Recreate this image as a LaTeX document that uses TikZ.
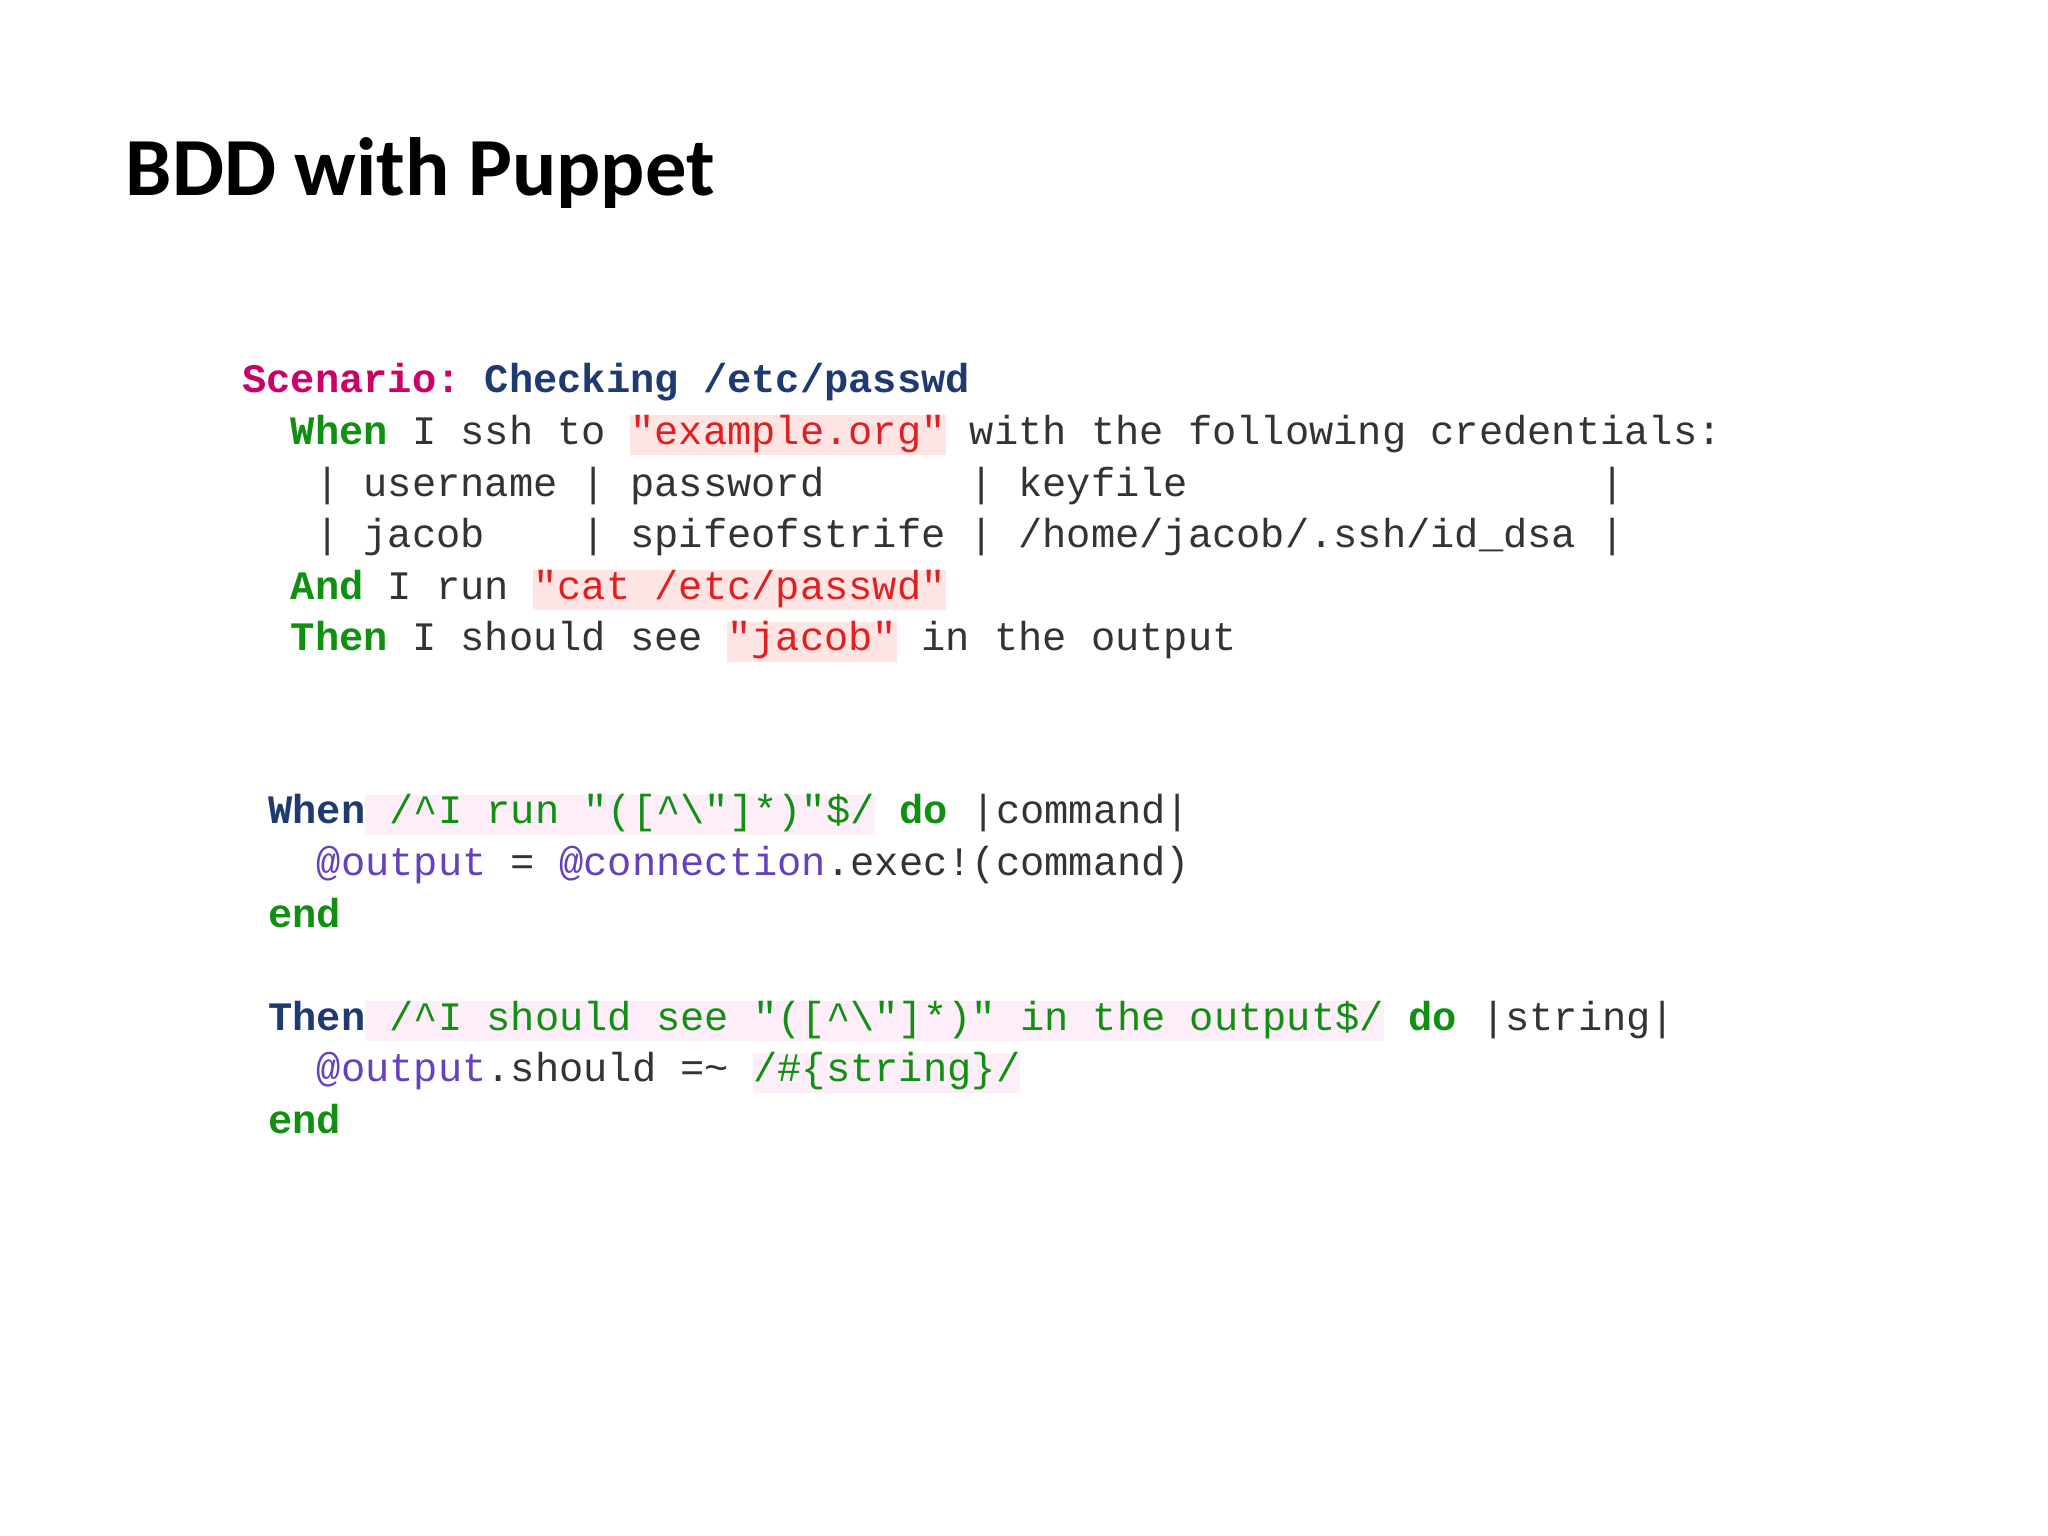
\documentclass[tikz,border=0pt]{standalone}
\usepackage{fontspec}
\setmainfont{Carlito}
\newfontfamily\code{Liberation Mono}
\definecolor{scen}{HTML}{CC0066}
\definecolor{navy}{HTML}{1F3A70}
\definecolor{kw}{HTML}{109010}
\definecolor{str}{HTML}{E02020}
\definecolor{strbg}{HTML}{FFE4E4}
\definecolor{rxbg}{HTML}{FDEEFA}
\definecolor{ivar}{HTML}{6640C0}
\definecolor{txt}{HTML}{333333}
\newcommand\myhl[2]{{\setlength\fboxsep{0pt}\colorbox{#1}{\rule[-3pt]{0pt}{11pt}#2}}}
\newcommand\myK[1]{\textcolor{kw}{\bfseries #1}}
\newcommand\myS[1]{\myhl{strbg}{\textcolor{str}{#1}}}
\newcommand\myR[1]{\myhl{rxbg}{\textcolor{kw}{#1}}}
\newcommand\myV[1]{\textcolor{ivar}{#1}}
\tikzset{cl/.style={anchor=base west,inner sep=0pt,font=\code\fontsize{11.5}{14}\selectfont,text=txt}}
\begin{document}
\begin{tikzpicture}
\useasboundingbox[fill=white] (0,0) rectangle (20.48,15.36);
\node[anchor=base west,inner sep=0pt,font=\bfseries\fontsize{23.5}{28}\selectfont] (title) at (1.25,13.40) {BDD with Puppet};
\def\dy{0.516}
\node[cl] (g1) at (2.416,11.43) {\textcolor{scen}{\bfseries Scenario:}~\textcolor{navy}{\bfseries Checking~/etc/passwd}};
\node[cl] (g2) at (2.416,11.43-\dy) {~~\myK{When}~I~ssh~to~\myS{"example.org"}~with~the~following~credentials:};
\node[cl] (g3) at (2.416,11.43-2*\dy) {~~~|~username~|~password~~~~~~|~keyfile~~~~~~~~~~~~~~~~~|};
\node[cl] (g4) at (2.416,11.43-3*\dy) {~~~|~jacob~~~~|~spifeofstrife~|~/home/jacob/.ssh/id\_dsa~|};
\node[cl] (g5) at (2.416,11.43-4*\dy) {~~\myK{And}~I~run~\myS{"cat~/etc/passwd"}};
\node[cl] (g6) at (2.416,11.43-5*\dy) {~~\myK{Then}~I~should~see~\myS{"jacob"}~in~the~output};
\node[cl] (c1) at (2.677,7.12) {\textcolor{navy}{\bfseries When}\myR{~/\textasciicircum I~run~"([\textasciicircum\textbackslash"]*)"\$/}~\myK{do}~|command|};
\node[cl] (c2) at (2.677,7.12-\dy) {~~\myV{@output}~=~\myV{@connection}.exec!(command)};
\node[cl] (c3) at (2.677,7.12-2*\dy) {\myK{end}};
\node[cl] (c5) at (2.677,7.12-4*\dy) {\textcolor{navy}{\bfseries Then}\myR{~/\textasciicircum I~should~see~"([\textasciicircum\textbackslash"]*)"~in~the~output\$/}~\myK{do}~|string|};
\node[cl] (c6) at (2.677,7.12-5*\dy) {~~\myV{@output}.should~=\textasciitilde~\myR{/\#\{string\}/}};
\node[cl] (c7) at (2.677,7.12-6*\dy) {\myK{end}};
\end{tikzpicture}
\end{document}
